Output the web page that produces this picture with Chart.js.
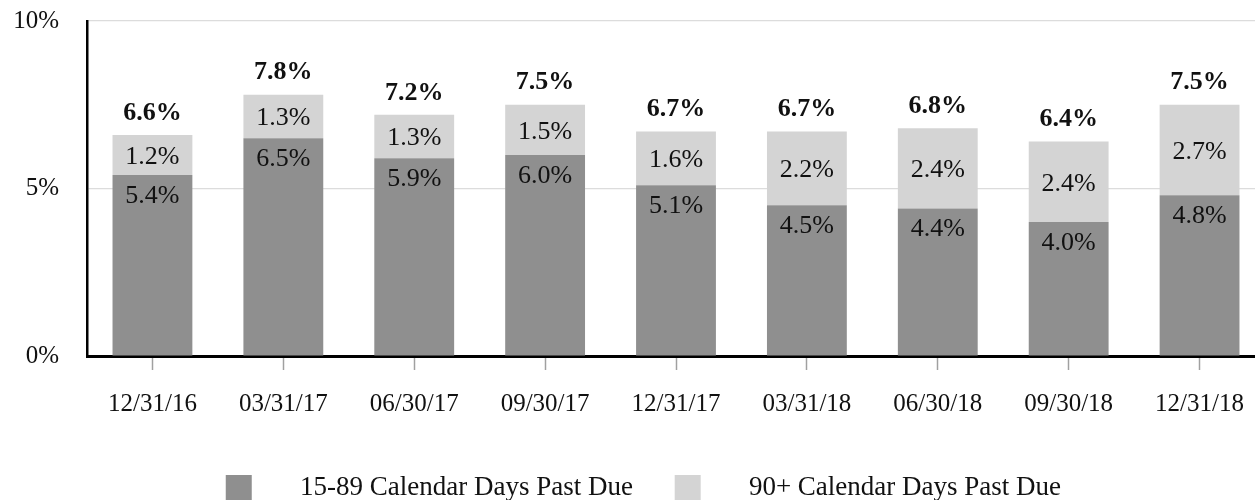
<!DOCTYPE html>
<html>
<head>
<meta charset="utf-8">
<script src="https://cdn.jsdelivr.net/npm/chart.js@4.4.1/dist/chart.umd.min.js"></script>
<style>
html,body{margin:0;padding:0;overflow:hidden;background:#fff;width:1255px;height:500px}
#wrap{width:1265px;height:511px;position:relative}
canvas{display:block}
</style>
</head>
<body>
<div id="wrap"><canvas id="c" width="1265" height="511"></canvas></div>
<script>
const categories = ['12/31/16','03/31/17','06/30/17','09/30/17','12/31/17','03/31/18','06/30/18','09/30/18','12/31/18'];
const pastDue15to89 = [5.4, 6.5, 5.9, 6.0, 5.1, 4.5, 4.4, 4.0, 4.8];
const pastDue90plus = [1.2, 1.3, 1.3, 1.5, 1.6, 2.2, 2.4, 2.4, 2.7];
const totals = [6.6, 7.8, 7.2, 7.5, 6.7, 6.7, 6.8, 6.4, 7.5];
const yTickValues = [0, 5, 10];
const seriesNames = ['15-89 Calendar Days Past Due', '90+ Calendar Days Past Due'];

const COLORS = ['#8f8f8f', '#d4d4d4'];
const FONT = "'Liberation Serif', 'Times New Roman', serif";
Chart.defaults.font.family = FONT;
Chart.defaults.color = '#111';

function swatch(color) {
  const c = document.createElement('canvas');
  c.width = 83; c.height = 26;
  const x = c.getContext('2d');
  x.fillStyle = color;
  x.fillRect(22, 0, 26, 26);
  return c;
}
const swatches = COLORS.map(swatch);

const labelPlugin = {
  id: 'segLabels',
  afterDatasetsDraw(chart) {
    const ctx = chart.ctx;
    const m0 = chart.getDatasetMeta(0), m1 = chart.getDatasetMeta(1);
    ctx.save();
    ctx.textAlign = 'center';
    ctx.textBaseline = 'middle';
    ctx.fillStyle = '#111';
    ctx.font = "26px " + FONT;
    m0.data.forEach((bar, i) => {
      ctx.fillText(pastDue15to89[i].toFixed(1) + '%', bar.x, bar.y + 21);
    });
    m1.data.forEach((bar, i) => {
      ctx.fillText(pastDue90plus[i].toFixed(1) + '%', bar.x, (bar.y + bar.base) / 2 + 2);
    });
    ctx.font = "bold 26px " + FONT;
    m1.data.forEach((bar, i) => {
      ctx.fillText(totals[i].toFixed(1) + '%', bar.x, bar.y - 22);
    });
    ctx.restore();
  }
};

new Chart(document.getElementById('c'), {
  type: 'bar',
  data: {
    labels: categories,
    datasets: [
      { label: seriesNames[0], data: pastDue15to89, backgroundColor: COLORS[0], borderWidth: 0, barPercentage: 0.61, categoryPercentage: 1 },
      { label: seriesNames[1], data: pastDue90plus, backgroundColor: COLORS[1], borderWidth: 0, barPercentage: 0.61, categoryPercentage: 1 }
    ]
  },
  options: {
    responsive: false,
    animation: false,
    devicePixelRatio: 1,
    layout: { padding: { top: 21, left: 0, right: 0, bottom: 0 } },
    plugins: {
      tooltip: { enabled: false },
      legend: {
        position: 'bottom',
        labels: {
          usePointStyle: true,
          pointStyleWidth: 82.5,
          padding: 20,
          color: '#111',
          font: { size: 27 },
          generateLabels(chart) {
            const items = Chart.defaults.plugins.legend.labels.generateLabels(chart);
            items.forEach((it, i) => { it.pointStyle = swatches[i]; });
            return items;
          }
        }
      }
    },
    scales: {
      x: {
        stacked: true,
        grid: { display: true, drawOnChartArea: false, drawTicks: true, tickLength: 14, tickColor: '#a0a0a0', tickWidth: 1.5, offset: false },
        border: { display: true, color: '#000', width: 3 },
        ticks: { padding: 19, font: { size: 25 }, color: '#111', maxRotation: 0 },
        afterFit(s) { s.height = 98; }
      },
      y: {
        stacked: true,
        min: 0, max: 10,
        afterBuildTicks(s) { s.ticks = yTickValues.map(v => ({ value: v })); },
        grid: { color: '#dcdcdc', lineWidth: 1.2, drawTicks: false },
        border: { display: true, color: '#000', width: 2.5 },
        ticks: { padding: 28, font: { size: 25 }, color: '#111', callback: v => v + '%' },
        afterFit(s) { s.width = 87; s.paddingTop = 0; s.paddingBottom = 0; }
      }
    }
  },
  plugins: [labelPlugin]
});
</script>
</body>
</html>
